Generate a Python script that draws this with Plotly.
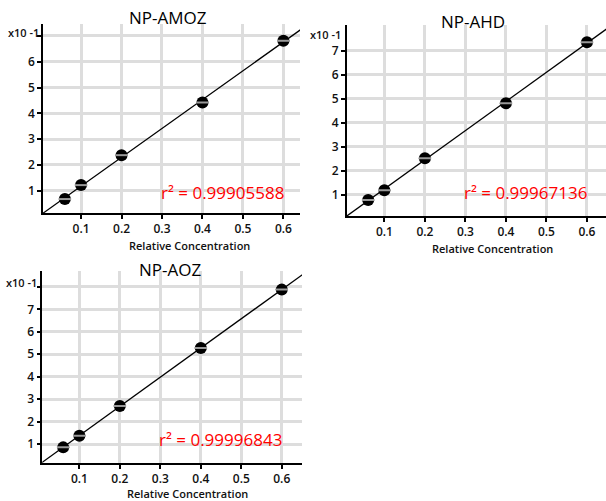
import numpy as np
import plotly.graph_objects as go

W, H = 606, 501

# ---- data ----
conc = [0.06, 0.1, 0.2, 0.4, 0.6]
amoz = [0.68, 1.22, 2.38, 4.42, 6.81]
ahd = [0.78, 1.18, 2.52, 4.81, 7.35]
aoz = [0.85, 1.37, 2.69, 5.28, 7.88]
titles = ["NP-AMOZ", "NP-AHD", "NP-AOZ"]
r2_text = ["r² = 0.99905588", "r² = 0.99967136", "r² = 0.99996843"]
x_ticks = [0.1, 0.2, 0.3, 0.4, 0.5, 0.6]
x_ticktext = ["0.1", "0.2", "0.3", "0.4", "0.5", "0.6"]
y_ticks1 = [1, 2, 3, 4, 5, 6, 7]
y_ticktext1 = ["1", "2", "3", "4", "5", "6", ""]
y_ticks2 = [1, 2, 3, 4, 5, 6, 7]
y_ticktext2 = ["1", "2", "3", "4", "5", "6", "7"]
y_ticks3 = [1, 2, 3, 4, 5, 6, 7, 8]
y_ticktext3 = ["1", "2", "3", "4", "5", "6", "7", ""]
mult_label = "x10 -1"
x_title = "Relative Concentration"

series = [amoz, ahd, aoz]

# ---- layout geometry (pixels) ----
panels = [
    dict(px=(43, 300), py=(24, 213), yr=(0.14, 7.46), xr=(0.006, 0.641),
         yt=(y_ticks1, y_ticktext1), title_xy=(168, 18), r2_xy=(222, 192),
         mult_xy=(41, 33), xt_xy=(189, 245)),
    dict(px=(346.7, 606), py=(25, 216), yr=(0.11, 8.07), xr=(0.007, 0.647),
         yt=(y_ticks2, y_ticktext2), title_xy=(473, 21), r2_xy=(525, 193),
         mult_xy=(343, 35), xt_xy=(492, 248)),
    dict(px=(42.3, 302), py=(271, 463.3), yr=(0.14, 8.71), xr=(0.0084, 0.65),
         yt=(y_ticks3, y_ticktext3), title_xy=(170, 269), r2_xy=(220, 439),
         mult_xy=(39, 282), xt_xy=(187, 493)),
]

font_family = "Open Sans, Noto Sans, DejaVu Sans, sans-serif"

fig = go.Figure()
layout = dict(
    width=W, height=H,
    margin=dict(l=0, r=0, t=0, b=0),
    paper_bgcolor="white", plot_bgcolor="white",
    showlegend=False,
    font=dict(family=font_family, color="#111"),
)
annotations = []

for i, (p, ys) in enumerate(zip(panels, series)):
    n = "" if i == 0 else str(i + 1)
    xa, ya = "x" + n, "y" + n
    slope, icpt = np.polyfit(conc, ys, 1)
    lx = np.array([0.0, 0.7])
    fig.add_trace(go.Scatter(x=lx, y=slope * lx + icpt, mode="lines",
                             line=dict(color="black", width=1.3),
                             xaxis=xa, yaxis=ya, hoverinfo="skip"))
    fig.add_trace(go.Scatter(x=conc, y=ys, mode="markers",
                             marker=dict(symbol="circle", size=12, color="black"),
                             xaxis=xa, yaxis=ya))
    fig.add_trace(go.Scatter(x=conc, y=ys, mode="markers",
                             marker=dict(symbol="line-ew", size=9,
                                         line=dict(color="#999999", width=2)),
                             xaxis=xa, yaxis=ya, hoverinfo="skip"))
    x0, x1 = p["px"]
    y0, y1 = p["py"]
    common = dict(showline=True, linecolor="black", linewidth=1.5,
                  showgrid=True, gridcolor="#dddddd", gridwidth=3,
                  ticks="outside", ticklen=4, tickcolor="black", tickwidth=1.5,
                  zeroline=False, tickfont=dict(size=12, color="#111", weight=600))
    layout["xaxis" + n] = dict(domain=[x0 / W, x1 / W], range=list(p["xr"]),
                               anchor=ya, tickvals=x_ticks, ticktext=x_ticktext,
                               **common)
    layout["yaxis" + n] = dict(domain=[1 - y1 / H, 1 - y0 / H], range=list(p["yr"]),
                               anchor=xa, tickvals=p["yt"][0], ticktext=p["yt"][1],
                               **common)
    tx, ty = p["title_xy"]
    annotations.append(dict(text=titles[i], x=tx / W, y=1 - ty / H, xref="paper", yref="paper",
                            showarrow=False, font=dict(size=17, color="black", weight=500),
                            xanchor="center", yanchor="middle"))
    rx, ry = p["r2_xy"]
    annotations.append(dict(text=r2_text[i], x=rx / W, y=1 - ry / H, xref="paper", yref="paper",
                            showarrow=False, font=dict(size=17, color="#ff0000", weight=500),
                            xanchor="center", yanchor="middle"))
    mx, my = p["mult_xy"]
    annotations.append(dict(text=mult_label, x=mx / W, y=1 - my / H, xref="paper", yref="paper",
                            showarrow=False, font=dict(size=11, color="#111", weight=600),
                            xanchor="right", yanchor="middle"))
    ax, ay = p["xt_xy"]
    annotations.append(dict(text=x_title, x=ax / W, y=1 - ay / H, xref="paper", yref="paper",
                            showarrow=False, font=dict(size=11, color="#111", weight=600),
                            xanchor="center", yanchor="middle"))

layout["annotations"] = annotations
fig.update_layout(**layout)
fig.write_html("out.html", config={"displayModeBar": False},
               post_script="document.body.style.margin='0';document.body.style.overflow='hidden';")
